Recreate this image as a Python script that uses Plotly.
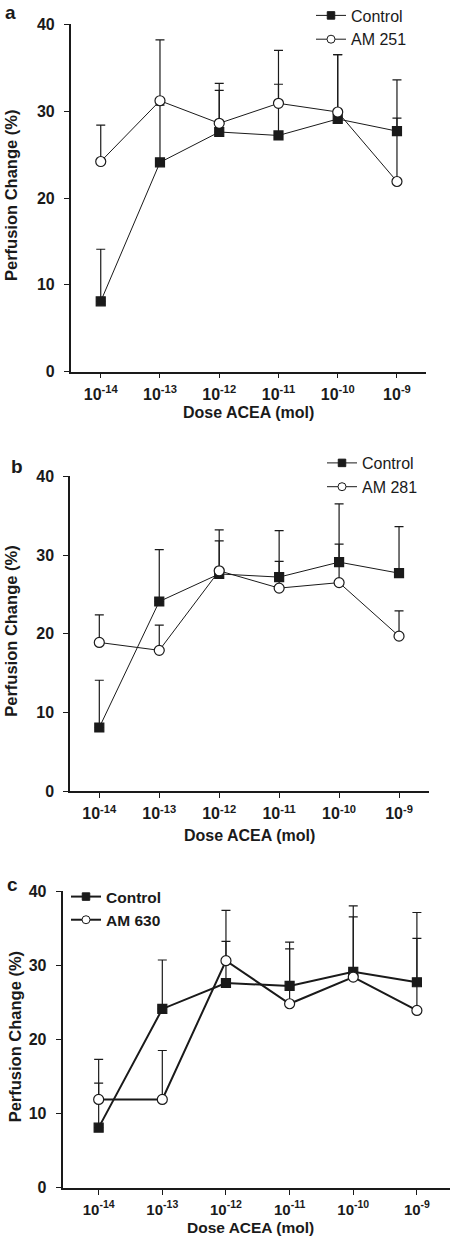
import plotly.graph_objects as go

# ---- data ----
dose_labels = ["10<sup>-14</sup>", "10<sup>-13</sup>", "10<sup>-12</sup>",
               "10<sup>-11</sup>", "10<sup>-10</sup>", "10<sup>-9</sup>"]
dose_idx = [0, 1, 2, 3, 4, 5]

control_mean = [8.1, 24.1, 27.6, 27.2, 29.1, 27.7]
control_err = [6.0, 6.6, 5.6, 5.9, 7.4, 5.9]

am251_mean = [24.2, 31.2, 28.6, 30.9, 29.9, 21.9]
am251_err = [4.2, 7.0, 3.8, 6.1, 6.6, 7.3]

am281_mean = [18.9, 17.9, 28.0, 25.8, 26.5, 19.7]
am281_err = [3.5, 3.2, 3.8, 3.4, 4.9, 3.2]

am630_mean = [11.9, 11.9, 30.6, 24.8, 28.4, 23.9]
am630_err = [5.4, 6.6, 6.8, 7.4, 9.6, 13.2]

W, H = 450, 1237
FONT = "Liberation Sans, Arial, Helvetica, sans-serif"
INK = "#1a1a1a"

panels = [
    dict(letter="a", name="AM 251", mean=am251_mean, err=am251_err,
         xpx=(70.7, 426), ypx=(24.3, 371.7), xr=(-0.507, 5.49), lw=1.0,
         leg=dict(x=311, y=-1.5, bold=False), tfs=16),
    dict(letter="b", name="AM 281", mean=am281_mean, err=am281_err,
         xpx=(70, 429), ypx=(476.3, 791.3), xr=(-0.489, 5.50), lw=1.0,
         leg=dict(x=322, y=446, bold=False), tfs=16),
    dict(letter="c", name="AM 630", mean=am630_mean, err=am630_err,
         xpx=(62.7, 450), ypx=(891, 1187.7), xr=(-0.565, 5.52), lw=2.0,
         leg=dict(x=66, y=880, bold=True), tfs=15),
]

fig = go.Figure()
layout = dict(width=W, height=H, margin=dict(l=0, r=0, t=0, b=0, autoexpand=False),
              paper_bgcolor="white", plot_bgcolor="white",
              font=dict(family=FONT, color=INK), annotations=[])

for i, p in enumerate(panels):
    k = "" if i == 0 else str(i + 1)
    xa, ya = "x" + k, "y" + k
    legname = "legend" + k
    for nm, mean, err, sym, fill in [("Control", control_mean, control_err, "square", INK),
                                     (p["name"], p["mean"], p["err"], "circle", "white")]:
        # data trace
        fig.add_trace(go.Scatter(
            x=dose_idx, y=mean, xaxis=xa, yaxis=ya, mode="lines+markers",
            name=nm, showlegend=False, cliponaxis=False,
            line=dict(color=INK, width=p["lw"]),
            marker=dict(symbol=sym, size=9 if sym == "square" else 10, color=fill,
                        line=dict(color=INK, width=1.2)),
            error_y=dict(type="data", array=err, arrayminus=[0] * len(err), symmetric=False,
                         color=INK, thickness=1.2, width=4.5),
        ))
        # legend entry (smaller legend symbol, no data)
        fig.add_trace(go.Scatter(
            x=[None], y=[None], xaxis=xa, yaxis=ya, mode="lines+markers",
            name=("<b>%s</b>" % nm) if p["leg"]["bold"] else nm,
            legend=legname, showlegend=True, hoverinfo="skip",
            line=dict(color=INK, width=p["lw"]),
            marker=dict(symbol=sym, size=7.5 if sym == "square" else 8, color=fill,
                        line=dict(color=INK, width=1)),
        ))
    x0, x1 = p["xpx"]
    yt, yb = p["ypx"]
    layout["xaxis" + k] = dict(
        domain=[x0 / W, x1 / W], range=list(p["xr"]), anchor=ya,
        tickmode="array", tickvals=dose_idx, ticktext=["<b>%s</b>" % t for t in dose_labels],
        ticks="outside", ticklen=5, tickwidth=1.3, tickcolor=INK,
        showline=True, linecolor=INK, linewidth=1.5 if i < 2 else 2,
        showgrid=False, zeroline=False, ticklabelstandoff=2,
        tickfont=dict(size=p["tfs"], family=FONT, color=INK))
    layout["yaxis" + k] = dict(
        domain=[1 - yb / H, 1 - yt / H], range=[0, 40], anchor=xa,
        tickvals=[0, 10, 20, 30, 40], ticks="outside", ticklen=5, tickwidth=1.3, tickcolor=INK,
        showline=True, linecolor=INK, linewidth=1.5 if i < 2 else 2,
        showgrid=False, zeroline=False, ticklabelstandoff=6,
        tickfont=dict(size=16, family=FONT, color=INK, weight="bold"))
    layout[legname] = dict(
        x=p["leg"]["x"] / W, y=1 - p["leg"]["y"] / H, xanchor="left", yanchor="top",
        xref="paper", yref="paper", bgcolor="rgba(0,0,0,0)",
        font=dict(size=16 if i < 2 else 15.5, family=FONT, color=INK),
        tracegroupgap=0, itemsizing="trace")
    layout["annotations"].append(dict(
        text="<b>Dose ACEA (mol)</b>", x=(x0 + min(x1, 438)) / 2 / W,
        y=1 - (yb + (41 if i == 0 else 44 if i == 1 else 40)) / H,
        xref="paper", yref="paper", showarrow=False, xanchor="center", yanchor="middle",
        font=dict(size=16 if i < 2 else 15.5, family=FONT, color=INK)))
    layout["annotations"].append(dict(
        text="<b>Perfusion Change (%)</b>", x=(11 if i < 2 else 15) / W, y=1 - ((yt + yb) / 2 - 2) / H,
        xref="paper", yref="paper", showarrow=False, textangle=-90,
        xanchor="center", yanchor="middle",
        font=dict(size=16.5, family=FONT, color=INK)))
    lx, ly = [(10, 13), (17, 466), (12.5, 884)][i]
    layout["annotations"].append(dict(
        text="<b>%s</b>" % p["letter"], x=lx / W, y=1 - ly / H, xref="paper", yref="paper",
        showarrow=False, xanchor="center", yanchor="middle",
        font=dict(size=19, family=FONT, color=INK)))

layout["showlegend"] = True
fig.update_layout(**layout)
# remove the browser's default 8px page margin so the 450x1237 figure fills the window exactly
fig.write_html("out.html", config={"displayModeBar": False},
               post_script="document.body.style.margin='0px';")
